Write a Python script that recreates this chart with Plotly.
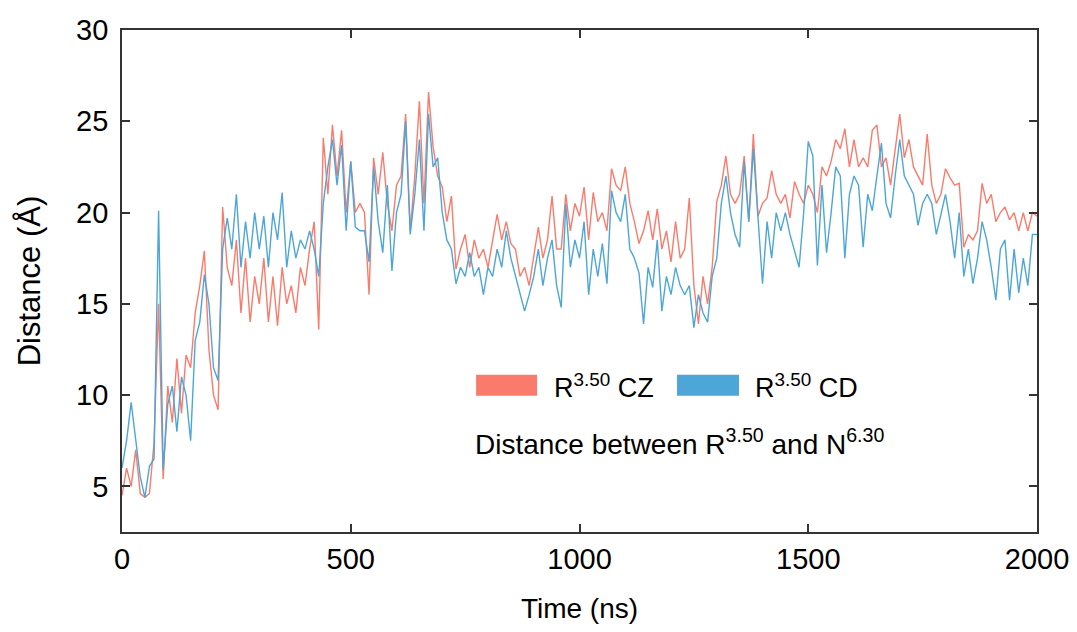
import plotly.graph_objects as go

# sampled every 10 ns, 0 .. 2000 ns
t_start = 0
t_step = 10

cz = [
    4.5, 6.0, 5.0, 7.0, 4.6, 4.4, 4.6, 7.4, 15.0, 5.4,
    10.5, 8.5, 12.0, 9.0, 12.2, 11.5, 14.5, 16.0, 17.9, 12.5,
    10.0, 9.2, 20.3, 17.0, 16.0, 18.5, 14.5, 17.5, 14.0, 16.5,
    15.0, 17.5, 14.0, 16.5, 13.8, 17.0, 15.0, 16.0, 14.5, 17.0,
    16.0, 18.0, 19.5, 13.6, 24.1, 21.0, 24.8, 22.0, 24.5, 20.0,
    22.8, 20.0, 20.5, 20.0, 15.5, 23.0, 21.0, 23.3, 20.5, 19.0,
    21.5, 22.0, 25.4, 19.0, 22.0, 26.1, 20.5, 26.6, 23.6, 22.0,
    21.4, 19.5, 20.9, 16.9, 18.0, 18.8, 17.0, 18.5, 17.5, 18.0,
    17.0, 18.5, 19.9, 18.5, 19.5, 18.3, 18.0, 16.5, 17.0, 16.0,
    17.5, 19.2, 17.5, 18.5, 20.9, 18.0, 18.0, 21.0, 19.0, 20.5,
    19.8, 21.4, 18.5, 21.1, 19.5, 20.0, 19.0, 22.4, 21.5, 21.2,
    22.5, 20.5, 19.5, 18.3, 19.0, 20.1, 18.5, 20.2, 18.0, 19.0,
    17.3, 19.5, 17.5, 18.0, 20.8, 16.0, 13.9, 16.5, 15.0, 17.0,
    20.6, 21.5, 23.1, 21.0, 20.5, 21.0, 23.1, 19.5, 24.3, 19.8,
    20.5, 20.8, 22.3, 21.0, 20.5, 21.0, 19.7, 21.7, 21.0, 20.5,
    21.5, 21.0, 20.0, 22.5, 22.0, 22.8, 24.0, 23.5, 24.6, 22.5,
    24.0, 22.5, 23.0, 22.5, 24.5, 24.8, 22.5, 23.0, 21.5, 23.5,
    25.4, 23.0, 24.0, 22.5, 22.0, 21.5, 24.3, 21.5, 20.5, 21.0,
    22.4, 21.9, 21.5, 21.6, 18.1, 18.8, 18.5, 19.0, 21.6, 20.5,
    21.0, 19.5, 20.0, 20.3, 19.6, 20.0, 19.0, 20.0, 19.0, 20.0,
    19.8,
]

cd = [
    6.0, 7.5, 9.6, 7.7, 5.5, 4.4, 6.1, 6.5, 20.1, 5.9,
    9.5, 10.5, 8.0, 11.0, 10.0, 7.5, 13.0, 14.0, 16.6, 15.0,
    11.5, 10.8, 18.0, 19.7, 18.0, 21.0, 17.0, 19.5, 17.5, 20.0,
    18.0, 19.8, 17.0, 20.0, 18.5, 21.1, 17.0, 19.0, 17.5, 18.5,
    18.0, 19.0, 18.0, 16.5, 20.5, 22.5, 24.0, 21.5, 23.7, 19.0,
    22.8, 19.2, 19.0, 19.0, 17.3, 22.5, 19.5, 17.8, 21.5, 16.8,
    20.0, 21.0, 25.0, 18.8, 21.0, 24.0, 19.0, 25.4, 22.5, 23.0,
    20.0, 18.5, 18.0, 16.1, 17.0, 16.5, 17.8, 16.5, 17.0, 15.5,
    17.0, 16.5, 18.0, 17.0, 19.0, 17.5, 16.5, 15.5, 14.6, 15.5,
    16.5, 18.0, 16.0, 17.5, 18.5, 16.0, 14.8, 20.5, 17.0, 18.5,
    17.5, 19.5, 15.5, 18.0, 16.5, 18.3, 16.1, 21.2, 20.0, 19.5,
    21.0, 18.0, 17.5, 16.7, 13.9, 17.0, 15.9, 18.5, 14.6, 16.5,
    15.5, 17.0, 16.0, 15.5, 16.0, 13.7, 15.5, 14.5, 14.0, 16.5,
    17.5, 20.5, 22.0, 20.0, 18.8, 18.1, 22.8, 19.5, 23.5, 19.8,
    16.1, 19.5, 17.5, 20.0, 19.0, 20.0, 18.8, 17.9, 17.0, 20.0,
    23.9, 23.1, 17.1, 21.5, 17.8, 20.0, 22.5, 22.0, 17.5, 21.0,
    22.0, 21.5, 18.1, 21.0, 20.1, 22.0, 23.8, 20.5, 19.7, 22.0,
    24.0, 22.0, 21.5, 21.0, 19.3, 20.5, 21.0, 20.5, 18.8, 20.0,
    21.0, 19.5, 17.5, 20.0, 16.5, 18.0, 16.1, 17.5, 19.5, 18.5,
    17.0, 15.2, 18.0, 18.5, 15.2, 18.0, 15.6, 17.5, 16.0, 18.8,
    18.8,
]

red = "#FA7B6C"
blue = "#4CA6D8"
axis_col = "#333333"
font_fam = "Liberation Sans, Arial, sans-serif"

fig = go.Figure()
fig.add_trace(go.Scatter(y=cz, x0=t_start, dx=t_step, mode="lines",
                         line=dict(color=red, width=1.4), showlegend=False))
fig.add_trace(go.Scatter(y=cd, x0=t_start, dx=t_step, mode="lines",
                         line=dict(color=blue, width=1.4), showlegend=False))

# hand-drawn legend like the original (filled swatches)
fig.add_shape(type="rect", xref="paper", yref="paper",
              x0=0.387, x1=0.4536, y0=0.2716, y1=0.3134,
              fillcolor=red, line=dict(width=0))
fig.add_shape(type="rect", xref="paper", yref="paper",
              x0=0.6066, x1=0.6743, y0=0.2716, y1=0.3134,
              fillcolor=blue, line=dict(width=0))

txt_font = dict(family=font_fam, size=27, color="black")
fig.add_annotation(xref="paper", yref="paper", x=0.470, y=0.2915,
                   xanchor="left", yanchor="middle", showarrow=False,
                   text="R<sup>3.50</sup> CZ", font=txt_font)
fig.add_annotation(xref="paper", yref="paper", x=0.690, y=0.2915,
                   xanchor="left", yanchor="middle", showarrow=False,
                   text="R<sup>3.50</sup> CD", font=txt_font)
fig.add_annotation(xref="paper", yref="paper", x=0.3836, y=0.18,
                   xanchor="left", yanchor="middle", showarrow=False,
                   text="Distance between R<sup>3.50</sup> and N<sup>6.30</sup>",
                   font=dict(family=font_fam, size=28, color="black"))

# page body adds 8px around the figure, so keep the page at 1077x632
fig.update_layout(
    width=1061, height=616,
    margin=dict(l=114, r=32, t=22, b=92),
    plot_bgcolor="white", paper_bgcolor="white",
    xaxis=dict(
        range=[0, 2000], tickvals=[0, 500, 1000, 1500, 2000],
        ticks="inside", ticklen=8, tickwidth=1.5, tickcolor=axis_col,
        showline=True, linecolor=axis_col, linewidth=1.8, mirror="ticks",
        showgrid=False, zeroline=False, automargin=False,
        ticklabeloverflow="allow",
        tickfont=dict(family=font_fam, size=29, color="black"),
        title=dict(text="Time (ns)", standoff=31,
                   font=dict(family=font_fam, size=28, color="black")),
    ),
    yaxis=dict(
        range=[2.5, 30], tickvals=[5, 10, 15, 20, 25, 30],
        ticks="inside", ticklen=8, tickwidth=1.5, tickcolor=axis_col,
        showline=True, linecolor=axis_col, linewidth=1.8, mirror="ticks",
        showgrid=False, zeroline=False, ticklabelstandoff=6, automargin=False,
        ticklabeloverflow="allow",
        tickfont=dict(family=font_fam, size=29, color="black"),
        title=dict(text="Distance (Å)", standoff=26,
                   font=dict(family=font_fam, size=31, color="black")),
    ),
)

fig.write_html("out.html")
